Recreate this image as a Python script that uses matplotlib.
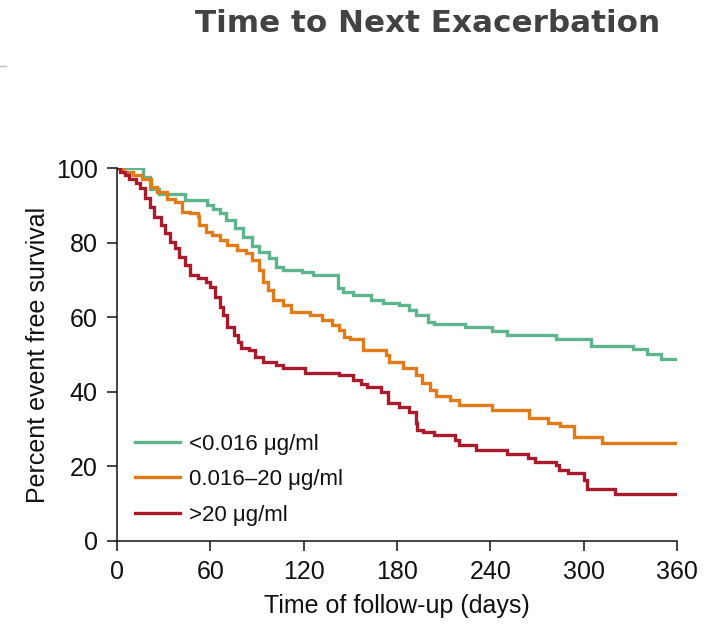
import matplotlib
matplotlib.use("Agg")
import matplotlib.pyplot as plt
from matplotlib.lines import Line2D

# ---- data ----
green_days = [0, 17, 21, 27, 44, 58, 62, 66, 70, 76, 81, 87, 91, 98, 102, 107, 119, 126, 142, 145,
              152, 163, 171, 181, 188, 192, 200, 204, 224, 241, 251, 282, 305, 332, 341, 350, 360]
green_pct = [100, 97.5, 94.5, 93, 91.5, 90, 89, 88, 86, 84, 81.5, 79, 77.5, 76, 73.5, 72.7, 72, 71.3, 67.8, 66.8,
             66, 64.6, 63.8, 63.3, 62, 60.6, 58.7, 58.2, 57.4, 56.3, 55.2, 54.2, 52.3, 51.5, 50.1, 48.8, 48.8]

orange_days = [0, 4, 10, 16, 22, 26, 32, 37, 42, 47, 52, 53, 57, 61, 66, 71, 77, 83, 87, 91, 94, 97, 100,
               107, 112, 124, 132, 138, 143, 146, 150, 158, 173, 175, 184, 192, 196, 201, 205, 214, 220,
               241, 265, 277, 285, 294, 312, 360]
orange_pct = [100, 99, 98, 97, 95, 93.6, 91.7, 91, 88.2, 88, 87, 84.7, 82.8, 82, 80.7, 79.4, 78, 77.2, 75.3,
              72.7, 69.4, 67.3, 64.6, 63.3, 61.4, 60.6, 59.3, 57.9, 56.6, 54.8, 54.2, 51.2, 49.9, 48, 46.4,
              44.5, 42.3, 40.5, 38.9, 37.8, 36.5, 35.1, 33, 31.6, 30.8, 27.9, 26.3, 26.3]

red_days = [0, 2, 5, 8, 12, 15, 18, 21, 24, 28, 31, 34, 37, 40, 44, 47, 52, 57, 60, 63, 66, 68, 71, 75,
            78, 80, 85, 89, 94, 102, 107, 121, 143, 152, 157, 161, 170, 174, 181, 188, 192, 193, 197,
            204, 217, 220, 231, 251, 264, 269, 282, 284, 290, 300, 302, 320, 360]
red_pct = [100, 99, 98, 97, 96, 94.6, 92, 89.5, 86.9, 84.7, 82.5, 80.2, 78.5, 76.2, 74, 71.3, 70.5, 69.4,
           68, 65.4, 62.7, 60.6, 57.4, 55.2, 53.4, 51.7, 51.2, 49.3, 48, 47.2, 46.4, 45, 44.5, 43.2, 42,
           41.3, 40, 37, 36, 34.6, 31.6, 29.8, 29.2, 28.4, 27.1, 25.7, 24.4, 23.3, 22.2, 21.2, 20.4, 19,
           18.2, 16.4, 13.9, 12.6, 12.6]

series_labels = ["<0.016 \u03bcg/ml", "0.016\u201320 \u03bcg/ml", ">20 \u03bcg/ml"]
colors = ["#5db48d", "#e07b17", "#a81a2c"]
x_ticks = [0, 60, 120, 180, 240, 300, 360]
y_ticks = [0, 20, 40, 60, 80, 100]

plt.rcParams['font.family'] = ['Liberation Sans', 'DejaVu Sans']

fig = plt.figure(figsize=(7.23, 6.24), dpi=100)
ax = fig.add_axes([117/723, 1-541/624, 560/723, 373/624])

for d, p, c, lab in zip([green_days, orange_days, red_days],
                        [green_pct, orange_pct, red_pct], colors, series_labels):
    ax.step(d, p, where='post', color=c, lw=2.4, label=lab, solid_joinstyle='miter')

ax.set_xlim(0, 360)
ax.set_ylim(0, 100)
ax.set_xticks(x_ticks)
ax.set_yticks(y_ticks)
ax.tick_params(direction='out', length=7, width=1.1, labelsize=18, pad=7, colors='#111111')
for s in ['top', 'right']:
    ax.spines[s].set_visible(False)
for s in ['left', 'bottom']:
    ax.spines[s].set_linewidth(1.1)
    ax.spines[s].set_color('#111111')
ax.set_xlabel("Time of follow-up (days)", fontsize=18, labelpad=7, color='#111111')
ax.set_ylabel("Percent event free survival", fontsize=18, labelpad=4, color='#111111')

leg = ax.legend(loc='lower left', bbox_to_anchor=(-0.004, -0.013), frameon=False, fontsize=16,
                handlelength=2.05, handletextpad=0.4, labelspacing=0.66)
for t in leg.get_texts():
    t.set_color('#111111')

fig.text(0.592, 0.963, "Time to Next Exacerbation", ha='center', va='center',
         fontsize=22.3, fontweight='bold', color='#424242', family='DejaVu Sans')

fig.add_artist(Line2D([0, 6/723], [1-66/624, 1-66/624], color='#bbbbbb', lw=1.0))

fig.savefig("out.png", dpi=100)
